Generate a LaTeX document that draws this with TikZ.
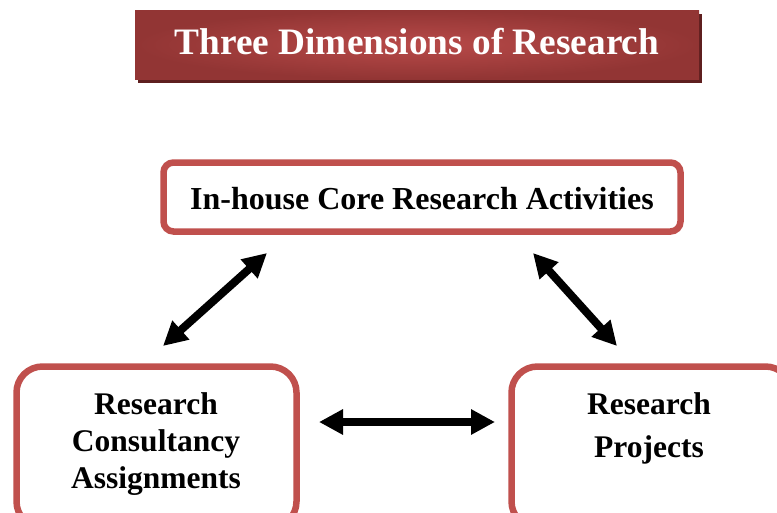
\documentclass[tikz,border=0pt]{standalone}
\usepackage{fontspec}
\setmainfont{Liberation Serif}
\usetikzlibrary{arrows.meta}
\definecolor{boxred}{HTML}{C0504D}
\definecolor{titleout}{HTML}{923534}
\definecolor{titlein}{HTML}{B84A49}
\definecolor{titleshadow}{HTML}{5E1F1F}
\tikzset{
  titlebox/.style={rectangle, inner sep=0pt, minimum width=564pt, minimum height=69pt,
    inner color=titlein, outer color=titleout},
  titleshade/.style={rectangle, inner sep=0pt, minimum width=564pt, minimum height=69pt, fill=titleshadow},
  titletxt/.style={anchor=base, text=white, inner sep=0pt, font=\fontsize{37.3}{40}\selectfont\bfseries},
  topbox/.style={rectangle, draw=boxred, line width=6.5pt, rounded corners=10pt, fill=white,
    minimum width=517pt, minimum height=69pt, inner sep=0pt},
  toptext/.style={anchor=base, inner sep=0pt, font=\fontsize{32}{37}\selectfont\bfseries},
  bigbox/.style={rectangle, draw=boxred, line width=6.5pt, rounded corners=26pt, fill=white,
    minimum width=280pt, minimum height=161pt, inner sep=0pt},
  boxtext/.style={align=center, inner sep=0pt, anchor=base, font=\fontsize{31.5}{37}\selectfont\bfseries},
  dblarrow/.style={line width=8pt, {Triangle[length=24pt,width=24pt]}-{Triangle[length=24pt,width=24pt]}}
}
\begin{document}
\begin{tikzpicture}[x=1pt,y=-1pt]
\useasboundingbox (0,0) rectangle (777,512);
\clip (0,0) rectangle (777,512);
% title
\node[titleshade] (titlesh) at (420,48.5) {};
\node[titlebox] (title) at (417,44.5) {};
\node[titletxt] (titletext) at (417,54) {Three Dimensions of Research};
% boxes
\node[topbox] (core) at (422,197) {};
\node[toptext] (coretext) at (422,209) {In-house Core Research Activities};
\node[bigbox] (consult) at (156.5,447) {};
\node[bigbox] (proj) at (651.5,447) {};
\node[boxtext] (consulttext) at (156,488) {Research\\Consultancy\\Assignments};
\node[boxtext, font=\fontsize{31.5}{43}\selectfont\bfseries] (projtext) at (649,457) {Research\\Projects};
% arrow ends
\coordinate (a1) at (163,346);
\coordinate (a2) at (267,253);
\coordinate (b1) at (533,253);
\coordinate (b2) at (617,346);
\coordinate (c1) at (319,422);
\coordinate (c2) at (495,422);
\draw[dblarrow] (a1) -- (a2);
\draw[dblarrow] (b1) -- (b2);
\draw[dblarrow] (c1) -- (c2);
\end{tikzpicture}
\end{document}
